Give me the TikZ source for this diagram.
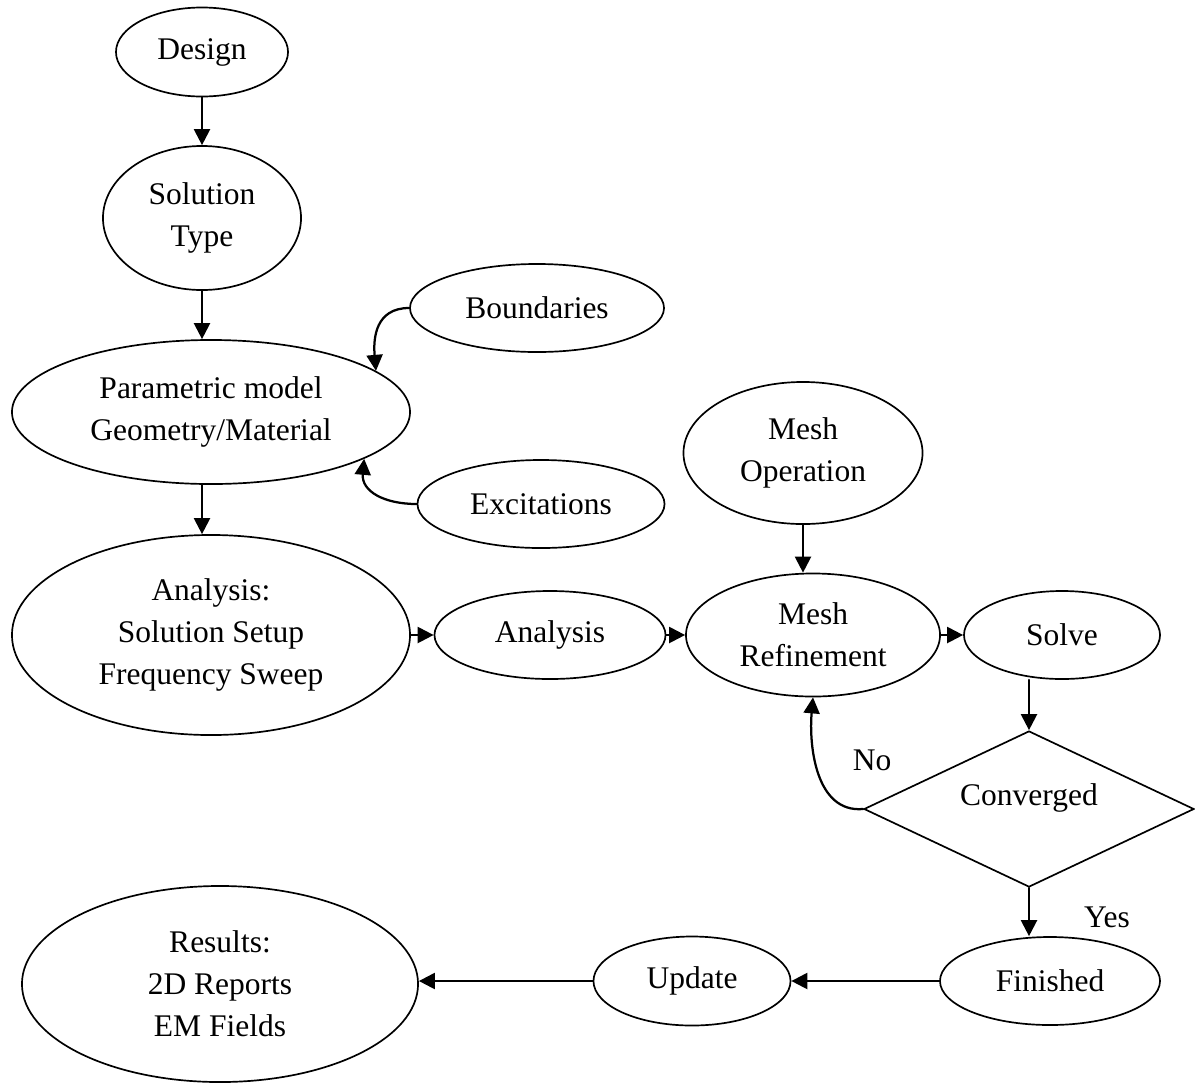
\documentclass[tikz,border=0pt]{standalone}
\usepackage{fontspec}
\setmainfont{Liberation Serif}
\usepackage{tikz}
\usetikzlibrary{arrows.meta, shapes.geometric, calc}

\begin{document}
\begin{tikzpicture}[x=0.025cm, y=-0.025cm, line cap=round,
	blob/.style={ellipse, draw, line width=1.2pt, inner sep=0pt, align=center, font=\fontsize{22.4}{29.9}\selectfont},
	flow/.style={line width=1.6pt, -{Triangle[length=0.4cm, width=0.4cm]}},
	tag/.style={font=\fontsize{22.4}{29.9}\selectfont}]

	\useasboundingbox (0,0) rectangle (1195,1087);

	% left column
	\node[blob, minimum width=4.3cm, minimum height=2.225cm] (design) at (202,52) {Design};
	\node[blob, minimum width=4.95cm, minimum height=3.6cm] (soltype) at (202,218) {Solution\\Type};
	\node[blob, minimum width=9.95cm, minimum height=3.6cm] (param) at (211,412) {Parametric model\\Geometry/Material};
	\node[blob, minimum width=6.35cm, minimum height=2.2cm] (bound) at (537,308) {Boundaries};
	\node[blob, minimum width=6.175cm, minimum height=2.2cm] (excit) at (541,504) {Excitations};
	\node[blob, minimum width=9.95cm, minimum height=5cm] (setup) at (211,635) {Analysis:\\Solution Setup\\Frequency Sweep};

	% middle row
	\node[blob, minimum width=5.775cm, minimum height=2.2cm] (analysis) at (550,635) {Analysis};
	\node[blob, minimum width=5.975cm, minimum height=3.55cm] (meshop) at (803,453) {Mesh\\Operation};
	\node[blob, minimum width=6.35cm, minimum height=3.075cm] (meshref) at (813,635) {Mesh\\Refinement};
	\node[blob, minimum width=4.9cm, minimum height=2.2cm] (solve) at (1062,635) {Solve};
	\node[diamond, shape aspect=2, draw, line width=1.2pt, inner sep=0pt, minimum width=8.25cm, minimum height=3.9cm, text depth=0.7cm, font=\fontsize{22.4}{29.9}\selectfont] (conv) at (1029,809) {Converged};

	% bottom row
	\node[blob, minimum width=5.5cm, minimum height=2.2cm] (fin) at (1050,981) {Finished};
	\node[blob, minimum width=4.925cm, minimum height=2.225cm] (upd) at (692,981) {Update};
	\node[blob, minimum width=9.9cm, minimum height=4.9cm] (res) at (220,984) {Results:\\2D Reports\\EM Fields};

	\node[tag] (no) at (872,760) {No};
	\node[tag] (yes) at (1107,917) {Yes};

	\draw[flow] (design) -- (soltype);
	\draw[flow] (soltype) -- (soltype |- param.north);
	\draw[flow] (param.south -| soltype) -- (soltype |- setup.north);
	\draw[flow] (bound.west) to[out=180, in=95, looseness=1.2] (param.14);
	\draw[flow] (excit.west) to[out=180, in=-95, looseness=1.2] (param.-17);

	\draw[flow] (setup) -- (analysis);
	\draw[flow] (analysis) -- (meshref);
	\draw[flow] (meshref) -- (solve);
	\draw[flow] (meshop) -- (meshop |- meshref.north);
	\draw[flow] (solve.south -| conv) -- (conv);
	\draw[flow] (conv.west) to[out=185, in=-95] (meshref.south);

	\draw[flow] (conv) -- (conv |- fin.north);
	\draw[flow] (fin) -- (upd);
	\draw[flow] (upd) -- (upd -| res.east);

\end{tikzpicture}
\end{document}
